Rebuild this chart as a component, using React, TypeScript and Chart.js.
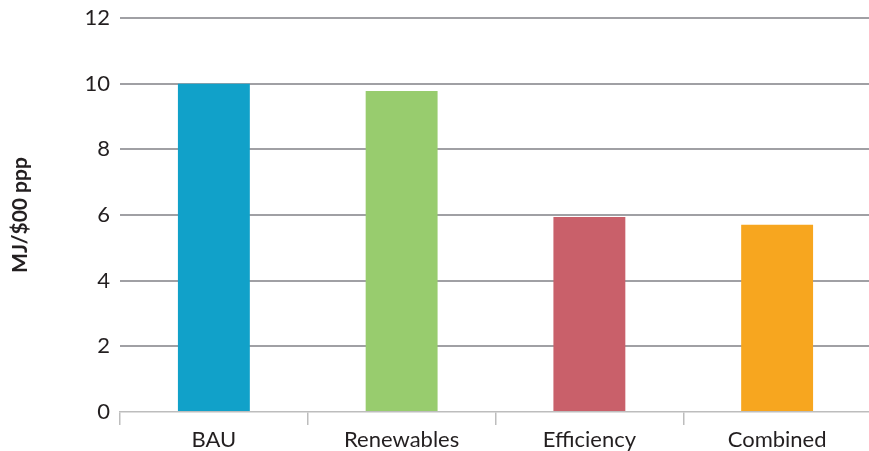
import React, { useEffect, useRef } from "react";
import { Chart, registerables } from "chart.js";

Chart.register(...registerables);

const categories = ["BAU", "Renewables", "Efficiency", "Combined"];
const values = [10.0, 9.78, 5.94, 5.7];
const barColors = ["#11A1C9", "#98CC6E", "#C9606A", "#F7A61F"];
const yTitle = "MJ/$00 ppp";
const yMin = 0;
const yMax = 12;
const yStep = 2;

const FONT = "Lato, 'Open Sans', sans-serif";
const TEXT = "#231F20";

export default function App() {
  const ref = useRef<HTMLCanvasElement | null>(null);

  useEffect(() => {
    if (!ref.current) return;
    const chart = new Chart(ref.current, {
      type: "bar",
      data: {
        labels: categories,
        datasets: [
          {
            data: values,
            backgroundColor: barColors,
            borderWidth: 0,
            barPercentage: 0.383,
            categoryPercentage: 1,
          },
        ],
      },
      options: {
        responsive: false,
        animation: false,
        devicePixelRatio: 1,
        layout: { padding: { top: 18, right: 0, left: 0, bottom: 0 } },
        plugins: {
          legend: { display: false },
          tooltip: { enabled: false },
        },
        scales: {
          x: {
            offset: true,
            grid: {
              offset: true,
              drawOnChartArea: false,
              drawTicks: true,
              tickLength: 13,
              color: "#BDBDBD",
              lineWidth: 1.5,
            },
            border: { display: true, color: "#BDBDBD", width: 1.5 },
            ticks: {
              color: TEXT,
              font: { family: FONT, size: 22 },
              padding: 2,
            },
            afterFit: (s: any) => {
              s.height = 39;
              s.paddingLeft = 0;
              s.paddingRight = 0;
            },
          },
          y: {
            min: yMin,
            max: yMax,
            ticks: {
              stepSize: yStep,
              color: TEXT,
              font: { family: FONT, size: 22 },
              padding: 10,
            },
            grid: {
              drawTicks: false,
              color: (ctx: any) =>
                ctx.tick && ctx.tick.value === 0 ? "rgba(0,0,0,0)" : "#A0A0A4",
              lineWidth: 2,
            },
            border: { display: false },
            title: {
              display: true,
              text: yTitle,
              color: TEXT,
              font: { family: FONT, size: 21, weight: "bold" },
              padding: { top: 8, bottom: 0 },
            },
            afterFit: (s: any) => {
              s.width = 120;
              s.paddingTop = 0;
              s.paddingBottom = 0;
            },
          },
        },
      },
    });
    return () => chart.destroy();
  }, []);

  return (
    <div
      style={{
        position: "absolute",
        left: 0,
        top: 0,
        width: 869,
        height: 451,
        overflow: "hidden",
        background: "#fff",
      }}
    >
      <canvas ref={ref} width={871} height={451} style={{ display: "block" }} />
    </div>
  );
}
